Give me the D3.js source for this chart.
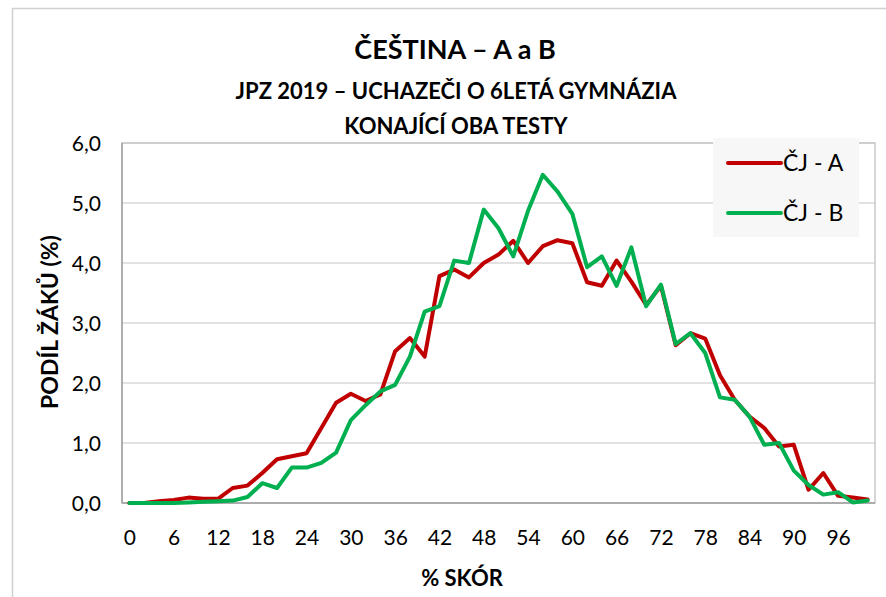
<!DOCTYPE html>
<html>
<head>
<meta charset="utf-8">
<script src="https://cdn.jsdelivr.net/npm/d3@7"></script>
<style>
  body { margin: 0; background: #fff; }
  text { font-family: Lato, "Open Sans", sans-serif; fill: #000; }
</style>
</head>
<body>
<script>
// score categories (% SKÓR), 0..100 step 2
var scores = d3.range(0, 101, 2)
var tickScores = [0, 6, 12, 18, 24, 30, 36, 42, 48, 54, 60, 66, 72, 78, 84, 90, 96]
var yTicks = [0, 1, 2, 3, 4, 5, 6]

var seriesA = [0, 0, 0.03, 0.05, 0.09, 0.07, 0.07, 0.25, 0.29, 0.5,
    0.73, 0.78, 0.83, 1.25, 1.67, 1.82, 1.7, 1.81, 2.53, 2.75,
    2.44, 3.78, 3.89, 3.76, 4.0, 4.14, 4.37, 4.0, 4.28, 4.38,
    4.33, 3.68, 3.62, 4.04, 3.69, 3.3, 3.62, 2.63, 2.83, 2.74,
    2.13, 1.72, 1.44, 1.25, 0.94, 0.97, 0.22, 0.5, 0.12, 0.09, 0.06]
var seriesB = [0, 0, 0, 0, 0.01, 0.02, 0.03, 0.04, 0.1, 0.33,
    0.25, 0.59, 0.59, 0.67, 0.84, 1.38, 1.63, 1.86, 1.97, 2.44,
    3.19, 3.28, 4.04, 4.0, 4.89, 4.58, 4.11, 4.87, 5.47, 5.19,
    4.82, 3.93, 4.11, 3.62, 4.26, 3.28, 3.64, 2.65, 2.83, 2.5,
    1.76, 1.72, 1.44, 0.97, 1.0, 0.54, 0.3, 0.14, 0.18, 0.01, 0.04]

var series = [
    { name: 'ČJ - A', values: seriesA, color: '#c00000' },
    { name: 'ČJ - B', values: seriesB, color: '#00b050' }
]

var width = 886, height = 597,
    plot = { left: 122, right: 875, top: 143, bottom: 503 }

var svg = d3.select('body').append('svg')
    .attr('width', width)
    .attr('height', height)

// chart frame
svg.append('rect')
    .attr('x', 12.5).attr('y', 8.5)
    .attr('width', 900).attr('height', 700)
    .attr('fill', 'none').attr('stroke', '#d0d0d0').attr('stroke-width', 1.5)

var x = d3.scalePoint().domain(scores).range([plot.left, plot.right]).padding(0.5)
var y = d3.scaleLinear().domain([0, 6]).range([plot.bottom, plot.top])

// gridlines
svg.append('g')
    .selectAll('line')
    .data(yTicks)
    .join('line')
    .attr('x1', plot.left).attr('x2', plot.right)
    .attr('y1', d => y(d)).attr('y2', d => y(d))
    .attr('stroke', '#d9d9d9').attr('stroke-width', 1.5)

// plot border
svg.append('rect')
    .attr('x', plot.left).attr('y', plot.top)
    .attr('width', plot.right - plot.left).attr('height', plot.bottom - plot.top)
    .attr('fill', 'none').attr('stroke', '#c8c8c8').attr('stroke-width', 1.5)

// axes lines (darker)
svg.append('line')
    .attr('x1', plot.left).attr('x2', plot.left)
    .attr('y1', plot.top).attr('y2', plot.bottom)
    .attr('stroke', '#a0a0a0').attr('stroke-width', 1.5)
svg.append('line')
    .attr('x1', plot.left).attr('x2', plot.right)
    .attr('y1', plot.bottom).attr('y2', plot.bottom)
    .attr('stroke', '#a0a0a0').attr('stroke-width', 1.5)

// y axis labels
var yAxis = d3.axisLeft(y).tickValues(yTicks).tickSize(0).tickPadding(0)
    .tickFormat(d => d3.format('.1f')(d).replace('.', ','))
svg.append('g')
    .attr('transform', 'translate(101,0)')
    .call(yAxis)
    .call(g => g.select('.domain').remove())
    .selectAll('text')
    .attr('font-size', 21).attr('dy', '0.36em')
    .style('font-family', 'Lato, sans-serif').attr('fill', '#000')

// x axis labels
var xAxis = d3.axisBottom(x).tickValues(tickScores).tickSize(0).tickPadding(0)
svg.append('g')
    .attr('transform', 'translate(0,530)')
    .call(xAxis)
    .call(g => g.select('.domain').remove())
    .selectAll('text')
    .attr('font-size', 21).attr('dy', '0.72em')
    .style('font-family', 'Lato, sans-serif').attr('fill', '#000')

// lines
var line = d3.line()
    .x((d, i) => x(scores[i]))
    .y(d => y(d))

svg.append('g')
    .selectAll('path')
    .data(series)
    .join('path')
    .attr('d', d => line(d.values))
    .attr('fill', 'none')
    .attr('stroke', d => d.color)
    .attr('stroke-width', 4)
    .attr('stroke-linejoin', 'round')
    .attr('stroke-linecap', 'round')

// legend
var legend = svg.append('g')
legend.append('rect')
    .attr('x', 713).attr('y', 138)
    .attr('width', 146).attr('height', 99)
    .attr('fill', '#f7f7f7')
var legendItem = legend.selectAll('g.item')
    .data(series)
    .join('g')
    .attr('class', 'item')
    .attr('transform', (d, i) => 'translate(0,' + (163 + i * 50) + ')')
legendItem.append('line')
    .attr('x1', 728).attr('x2', 781)
    .attr('stroke', d => d.color).attr('stroke-width', 4)
    .attr('stroke-linecap', 'round')
legendItem.append('text')
    .attr('x', 783).attr('dy', '0.36em')
    .attr('font-size', 23)
    .text(d => d.name)

// titles
svg.append('text')
    .attr('x', 455).attr('y', 59)
    .attr('text-anchor', 'middle')
    .attr('font-size', 27).attr('font-weight', 'bold')
    .text('ČEŠTINA – A a B')
svg.append('text')
    .attr('x', 456).attr('y', 99)
    .attr('text-anchor', 'middle')
    .attr('font-size', 22).attr('font-weight', 'bold')
    .text('JPZ 2019 – UCHAZEČI O 6LETÁ GYMNÁZIA')
svg.append('text')
    .attr('x', 456).attr('y', 134)
    .attr('text-anchor', 'middle')
    .attr('font-size', 22).attr('font-weight', 'bold')
    .text('KONAJÍCÍ OBA TESTY')

// axis titles
svg.append('text')
    .attr('x', 462).attr('y', 586)
    .attr('text-anchor', 'middle')
    .attr('font-size', 22).attr('font-weight', 'bold')
    .text('% SKÓR')
svg.append('text')
    .attr('transform', 'translate(58,322) rotate(-90)')
    .attr('text-anchor', 'middle')
    .attr('font-size', 23).attr('font-weight', 'bold')
    .text('PODÍL ŽÁKŮ (%)')
</script>
</body>
</html>
